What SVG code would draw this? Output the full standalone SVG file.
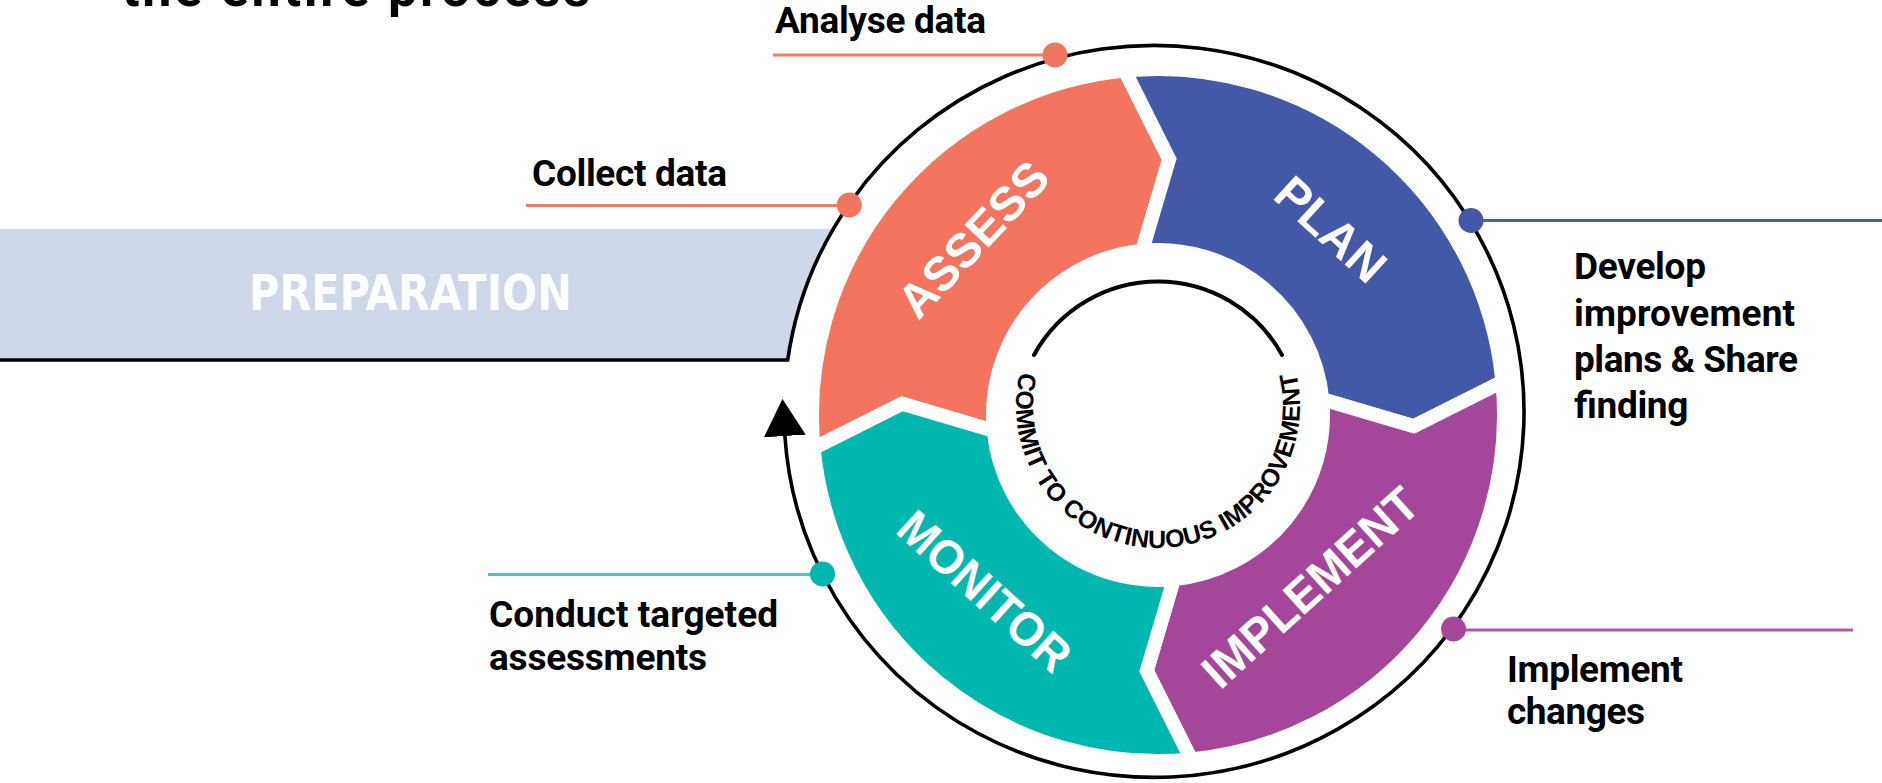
<svg xmlns="http://www.w3.org/2000/svg" xmlns:xlink="http://www.w3.org/1999/xlink" width="1882" height="783" viewBox="0 0 1882 783">
  <style>
    .lbl { font-family: Roboto, "Liberation Sans", sans-serif; font-weight: 700; font-size: 37px; fill: #000; }
    .seg { stroke: #fff; stroke-width: 14; stroke-linejoin: miter; }
    .seglbl { font-family: "Liberation Sans", Arial, sans-serif; font-weight: 700; font-size: 48px; fill: #fff; text-anchor: middle; }
    .lead { stroke-width: 3.2; fill: none; }
  </style>
  <defs>
    <marker id="arrowHead" markerUnits="userSpaceOnUse" markerWidth="38" markerHeight="42" viewBox="0 0 38 42" refX="1" refY="21" orient="auto">
      <path d="M0 0 L37 21 L0 42 Z" fill="#000"/>
    </marker>
    <path id="ringPath" d="M 1020.1 372.1 A 142 142 0 1 0 1295.9 372.1"/>
  </defs>
  <rect width="1882" height="783" fill="#fff"/>

  <!-- title (cut off at the top) -->
  <text id="title" x="122" y="6" font-family="Roboto, 'Liberation Sans', sans-serif" font-weight="700" font-size="52" textLength="468" fill="#000">the entire process</text>

  <!-- preparation band -->
  <g id="node-preparation">
    <path d="M 0 229 H 833.3 A 370 366 0 0 0 787.7 360 H 0 Z" fill="#CFD8E8"/>
    <text x="249" y="310" font-family="'DejaVu Sans Condensed', 'DejaVu Sans', sans-serif" font-weight="700" font-size="50" textLength="323" lengthAdjust="spacingAndGlyphs" fill="#fff">PREPARATION</text>
  </g>

  <!-- cycle segments -->
  <g id="node-assess">
    <path class="seg" fill="#F37560" d="M 813.59 448.16 A 346 346 0 0 1 1124.84 70.59 L 1169.17 159.24 L 1142.18 250.76 A 165 165 0 0 0 993.76 430.82 L 902.24 403.83 Z"/>
    <text class="seglbl" transform="translate(973 239) rotate(-46.5)" dy="17">ASSESS</text>
  </g>
  <g id="node-plan">
    <path class="seg" fill="#4358A7" d="M 1124.84 70.59 A 346 346 0 0 1 1502.41 381.84 L 1413.76 426.17 L 1322.24 399.18 A 165 165 0 0 0 1142.18 250.76 L 1169.17 159.24 Z"/>
    <text class="seglbl" transform="translate(1331 229) rotate(42.5)" dy="17">PLAN</text>
  </g>
  <g id="node-implement">
    <path class="seg" fill="#A4479A" d="M 1502.41 381.84 A 346 346 0 0 1 1191.16 759.41 L 1146.83 670.76 L 1173.82 579.24 A 165 165 0 0 0 1322.24 399.18 L 1413.76 426.17 Z"/>
    <text class="seglbl" transform="translate(1310 587) rotate(-42)" dy="17" textLength="272" lengthAdjust="spacingAndGlyphs">IMPLEMENT</text>
  </g>
  <g id="node-monitor">
    <path class="seg" fill="#00B7AF" d="M 1191.16 759.41 A 346 346 0 0 1 813.59 448.16 L 902.24 403.83 L 993.76 430.82 A 165 165 0 0 0 1173.82 579.24 L 1146.83 670.76 Z"/>
    <text class="seglbl" transform="translate(985 591) rotate(42)" dy="17" textLength="214" lengthAdjust="spacingAndGlyphs">MONITOR</text>
  </g>

  <!-- centre -->
  <g id="node-centre">
    <path d="M 1034 355 A 141.4 141.4 0 0 1 1282 355" fill="none" stroke="#000" stroke-width="4" stroke-linecap="round"/>
    <text font-family="'Liberation Sans', Arial, sans-serif" font-weight="700" font-size="25" letter-spacing="0.1" fill="#000">
      <textPath xlink:href="#ringPath" href="#ringPath" startOffset="50%" text-anchor="middle">COMMIT TO CONTINUOUS IMPROVEMENT</textPath>
    </text>
  </g>

  <!-- connectors -->
  <g id="connectors">
    <path d="M 0 360 H 787.7 A 370 366 0 1 1 784.8 435" fill="none" stroke="#000" stroke-width="3.6" marker-end="url(#arrowHead)"/>
    <line class="lead" x1="773" y1="55" x2="1055" y2="55" stroke="#F07D67"/>
    <line class="lead" x1="526" y1="205.5" x2="849" y2="205.5" stroke="#F07D67"/>
    <line class="lead" x1="1471" y1="220.5" x2="1882" y2="220.5" stroke="#4A5EAA"/>
    <line class="lead" x1="1453" y1="630" x2="1853" y2="630" stroke="#B05AA6"/>
    <line class="lead" x1="488" y1="574.5" x2="822.5" y2="574.5" stroke="#4FC4C0"/>
    <circle cx="1055" cy="55" r="12.5" fill="#F1765F"/>
    <circle cx="849.3" cy="205" r="12.5" fill="#F1765F"/>
    <circle cx="1471" cy="220.5" r="12.5" fill="#4358A7"/>
    <circle cx="1453.5" cy="629" r="12.5" fill="#A4479A"/>
    <circle cx="822.5" cy="574" r="12.5" fill="#00B7AF"/>
  </g>

  <!-- step labels -->
  <g id="label-analyse">
    <text class="lbl" x="775" y="33" textLength="211">Analyse data</text>
  </g>
  <g id="label-collect">
    <text class="lbl" x="532" y="186" textLength="195">Collect data</text>
  </g>
  <g id="label-develop">
    <text class="lbl" x="1574" y="279" textLength="132">Develop</text>
    <text class="lbl" x="1574" y="325.5" textLength="221">improvement</text>
    <text class="lbl" x="1574" y="372" textLength="224">plans &amp; Share</text>
    <text class="lbl" x="1574" y="418" textLength="114">finding</text>
  </g>
  <g id="label-implement">
    <text class="lbl" x="1507" y="682" textLength="176">Implement</text>
    <text class="lbl" x="1507" y="723.5" textLength="138">changes</text>
  </g>
  <g id="label-conduct">
    <text class="lbl" x="489" y="627" textLength="289">Conduct targeted</text>
    <text class="lbl" x="489" y="670" textLength="218">assessments</text>
  </g>
</svg>
